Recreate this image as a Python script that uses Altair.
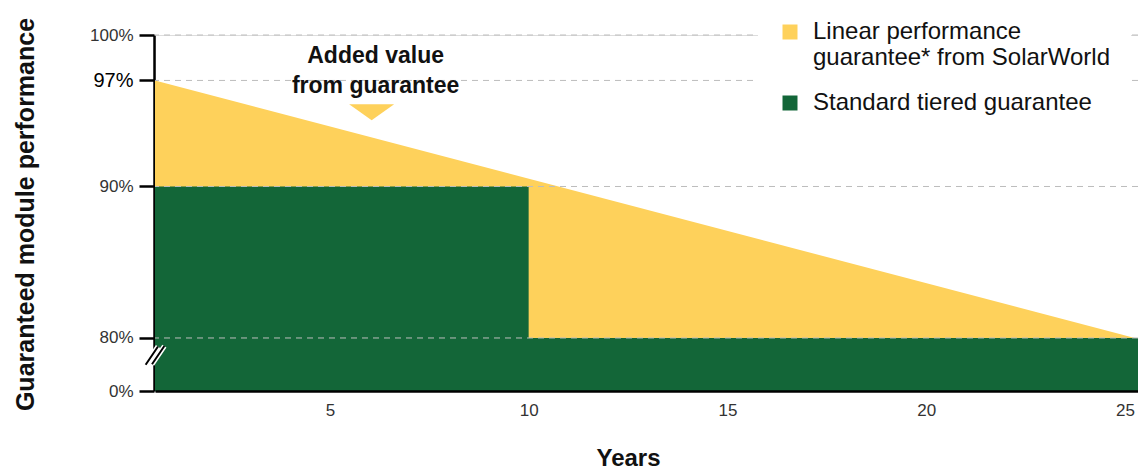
import altair as alt
import pandas as pd

# ---- data ----
LIN_NAME = "Linear performance guarantee* from SolarWorld"
TIER_NAME = "Standard tiered guarantee"

linear_years = [0.6, 25.25]
linear_perf = [97, 80]

tier_years = [0.6, 10, 25.33]
tier_level = [90, 80, 80]

x_ticks = [5, 10, 15, 20, 25]
BASE = 76.5            # position standing for "0%" on the broken axis
y_ticks = [BASE, 80, 90, 97, 100]
grid_values = [80, 90, 97, 100]
x_domain = [0.6, 25.33]

note_lines = ["Added value", "from guarantee"]
note_year, note_perf = 6.15, 98.6
arrow_year, arrow_perf = 6.05, 94.9
break_perf = 78.85

YELLOW = "#FED15B"
GREEN = "#136638"
FONT = "Liberation Sans"

# glyph shapes (unit symbol coordinates)
ARROW_SHAPE = "M-1,-0.36L1,-0.36L0,0.36Z"
BREAK_LINES = "M-0.78,0.78L0.25,-0.74M-0.25,0.74L0.78,-0.78"

lin_df = pd.DataFrame({"year": linear_years, "perf": linear_perf,
                       "base": [BASE] * len(linear_years), "series": LIN_NAME})
tier_df = pd.DataFrame({"year": tier_years, "level": tier_level,
                        "base": [BASE] * len(tier_years), "series": TIER_NAME})
grid_df = pd.DataFrame({"perf": grid_values})
note_df = pd.DataFrame({"year": [note_year], "perf": [note_perf], "t": [note_lines]})
arrow_df = pd.DataFrame({"year": [arrow_year], "perf": [arrow_perf]})
brk_df = pd.DataFrame({"year": [x_domain[0]], "perf": [break_perf]})

xs = alt.Scale(domain=x_domain, nice=False, zero=False)
ys = alt.Scale(domain=[BASE, 100], nice=False, zero=False)

color = alt.Color(
    "series:N",
    scale=alt.Scale(domain=[LIN_NAME, TIER_NAME], range=[YELLOW, GREEN]),
    legend=alt.Legend(
        title=None, orient="none", legendX=603, legendY=-35,
        symbolType="square", symbolSize=225, symbolStrokeWidth=0,
        labelFont=FONT, labelFontSize=24, labelColor="#111",
        labelLimit=400, labelOffset=11, rowPadding=21,
        labelExpr=f"datum.label == '{LIN_NAME}' ? ['Linear performance', 'guarantee* from SolarWorld'] : datum.label",
        fillColor="white", padding=20, zindex=3,
    ),
)

x_axis = alt.Axis(values=x_ticks, ticks=False, grid=False, domainColor="black",
                  domainWidth=2.5, labelFont=FONT, labelFontSize=17, labelColor="#333",
                  labelPadding=11, title="Years", titleFont=FONT, titleFontSize=24,
                  titleFontWeight="bold", titleColor="#111", titleX=473, titleY=74,
                  titleBaseline="alphabetic", zindex=1)

y_axis = alt.Axis(values=y_ticks, tickSize=15, tickWidth=2.5, tickColor="black",
                  domainColor="black", domainWidth=2.5, grid=False, offset=1,
                  labelExpr=f"datum.value == {BASE} ? '0%' : datum.value + '%'",
                  labelFont=FONT, labelPadding=6,
                  labelFontSize={"condition": {"test": "datum.value == 97", "value": 20}, "value": 17},
                  labelColor={"condition": {"test": "datum.value == 97", "value": "#000"}, "value": "#333"},
                  title="Guaranteed module performance", titleFont=FONT, titleFontSize=25,
                  titleFontWeight="bold", titleColor="#111", titleAngle=-90,
                  titleX=-121, titleY=179, titleAlign="center", titleBaseline="alphabetic",
                  zindex=0)

linear = alt.Chart(lin_df).mark_area(opacity=1).encode(
    x=alt.X("year:Q", scale=xs, axis=x_axis),
    y=alt.Y("perf:Q", scale=ys, axis=y_axis),
    y2="base:Q",
    color=color,
)

tiers = alt.Chart(tier_df).mark_area(opacity=1, interpolate="step-after").encode(
    x=alt.X("year:Q", scale=xs),
    y=alt.Y("level:Q", scale=ys),
    y2="base:Q",
    color=color,
)

grid = alt.Chart(grid_df).mark_rule(
    color="#bdbdbd", strokeDash=[6, 5], strokeWidth=1
).encode(y=alt.Y("perf:Q", scale=ys))

note = alt.Chart(note_df).mark_text(
    font=FONT, fontSize=23, fontWeight="bold", color="#111",
    lineHeight=30, baseline="middle", align="center",
).encode(x=alt.X("year:Q", scale=xs), y=alt.Y("perf:Q", scale=ys), text="t")

arrow = alt.Chart(arrow_df).mark_point(
    shape=ARROW_SHAPE, size=2025, filled=True, opacity=1,
    color=YELLOW, strokeWidth=0,
).encode(x=alt.X("year:Q", scale=xs), y=alt.Y("perf:Q", scale=ys))

brk_halo = alt.Chart(brk_df).mark_point(
    shape=BREAK_LINES, size=576, filled=False, opacity=1, color="white", strokeWidth=5,
).encode(x=alt.X("year:Q", scale=xs), y=alt.Y("perf:Q", scale=ys))

brk_lines = alt.Chart(brk_df).mark_point(
    shape=BREAK_LINES, size=576, filled=False, opacity=1, color="black", strokeWidth=2,
).encode(x=alt.X("year:Q", scale=xs), y=alt.Y("perf:Q", scale=ys))

chart = alt.layer(linear, tiers, grid, note, arrow, brk_halo, brk_lines).properties(
    width=983, height=356,
    autosize=alt.AutoSizeParams(type="none"),
    padding={"left": 155, "top": 35, "right": 0, "bottom": 78},
).configure_view(stroke=None).configure(background="white")

chart.save("out.html", embed_options={"renderer": "svg", "actions": False})
